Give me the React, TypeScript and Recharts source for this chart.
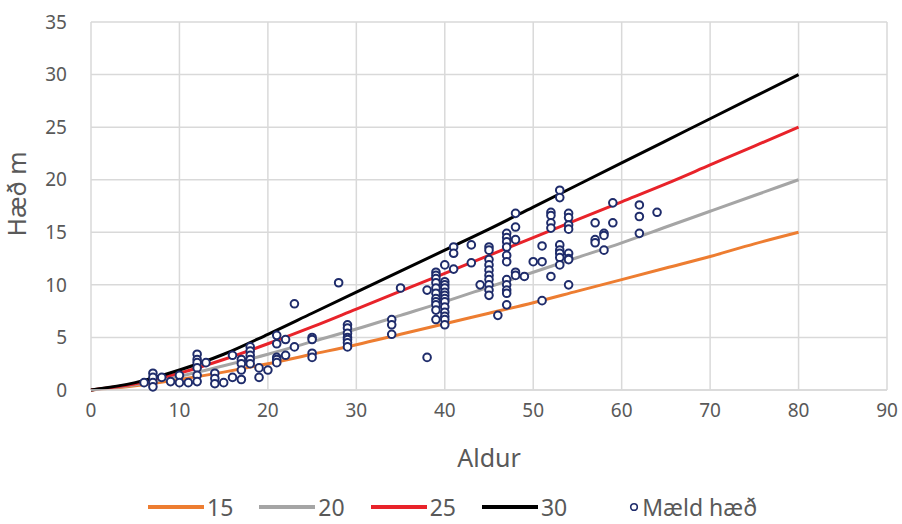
import React from "react";
import { ComposedChart, Line, Scatter, XAxis, YAxis, CartesianGrid, Legend, Label } from "recharts";

// Site-index height curves (height in m by age)
const AGES = [0, 5, 10, 15, 20, 25, 30, 35, 40, 45, 50, 55, 60, 65, 70, 75, 80];
const H15 = [0, 0.4, 1.0, 1.7, 2.5, 3.4, 4.3, 5.3, 6.3, 7.3, 8.3, 9.4, 10.5, 11.6, 12.7, 13.9, 15];
const H20 = [0, 0.5, 1.3, 2.3, 3.4, 4.6, 5.8, 7.1, 8.4, 9.8, 11.2, 12.6, 14.0, 15.5, 17.0, 18.5, 20];
const H25 = [0, 0.6, 1.6, 2.9, 4.4, 6.0, 7.7, 9.4, 11.1, 12.8, 14.5, 16.2, 17.9, 19.6, 21.4, 23.2, 25];
const H30 = [0, 0.7, 1.9, 3.4, 5.3, 7.3, 9.3, 11.3, 13.3, 15.3, 17.4, 19.5, 21.6, 23.7, 25.8, 27.9, 30];

// Measured heights, grouped by stand age
const MEASURED: [number, number[]][] = [
  [6, [0.7]],
  [7, [1.6, 1.2, 0.7, 0.3]],
  [8, [1.2]],
  [9, [0.8]],
  [10, [1.4, 0.7]],
  [11, [0.7]],
  [12, [3.4, 2.9, 2.6, 2.1, 1.4, 0.8]],
  [13, [2.6]],
  [14, [1.6, 1.1, 0.6]],
  [15, [0.7]],
  [16, [3.3, 1.2]],
  [17, [2.9, 2.5, 1.9, 1.0]],
  [18, [4.1, 3.7, 3.3, 2.9, 2.5]],
  [19, [2.1, 1.2]],
  [20, [1.9]],
  [21, [5.2, 4.4, 3.1, 2.9, 2.6]],
  [22, [4.8, 3.3]],
  [23, [8.2, 4.1]],
  [25, [5.0, 4.8, 3.5, 3.1]],
  [28, [10.2]],
  [29, [6.2, 5.9, 5.4, 5.0, 4.8, 4.5, 4.1]],
  [34, [6.7, 6.2, 5.3]],
  [35, [9.7]],
  [38, [9.5, 3.1]],
  [39, [11.2, 10.9, 10.6, 10.2, 9.7, 9.2, 8.7, 8.4, 8.1, 7.6, 6.7]],
  [40, [11.9, 10.3, 10.0, 9.7, 9.3, 9.0, 8.7, 8.4, 7.9, 7.4, 7.0, 6.7, 6.2]],
  [41, [13.6, 13.0, 11.5]],
  [43, [13.8, 12.1]],
  [44, [10.0]],
  [45, [13.6, 13.3, 12.4, 11.9, 11.4, 10.9, 10.5, 10.0, 9.5, 9.0]],
  [46, [7.1]],
  [47, [14.9, 14.5, 14.1, 13.6, 12.8, 12.2, 10.5, 10.0, 9.5, 9.2, 8.1]],
  [48, [16.8, 15.5, 14.3, 11.2, 10.9]],
  [49, [10.8]],
  [50, [12.2]],
  [51, [13.7, 12.2, 8.5]],
  [52, [16.9, 16.6, 15.9, 15.4, 10.8]],
  [53, [19.0, 18.3, 13.8, 13.3, 13.0, 12.6, 11.9]],
  [54, [16.8, 16.4, 15.7, 15.3, 13.0, 12.5, 12.4, 10.0]],
  [57, [15.9, 14.3, 14.0]],
  [58, [14.9, 14.7, 13.3]],
  [59, [17.8, 15.9]],
  [62, [17.6, 16.5, 14.9]],
  [64, [16.9]],
];

const X_TICKS = [0, 10, 20, 30, 40, 50, 60, 70, 80, 90];
const Y_TICKS = [0, 5, 10, 15, 20, 25, 30, 35];

const curveRows = AGES.map((age, i) => ({ age, s15: H15[i], s20: H20[i], s25: H25[i], s30: H30[i] }));
const measuredRows = MEASURED.flatMap(([age, hs]) => hs.map((h) => ({ age, h })));

const FONT = "'Noto Sans', 'DejaVu Sans', sans-serif";
const TEXT = "#595959";
const NAVY = "#1F2C6B";

const SERIES = [
  { key: "s15", name: "15", color: "#ED7D31" },
  { key: "s20", name: "20", color: "#A5A5A5" },
  { key: "s25", name: "25", color: "#E8232A" },
  { key: "s30", name: "30", color: "#000000" },
];

function Dot(props: any) {
  const { cx, cy } = props;
  return <circle cx={cx} cy={cy} r={3.8} fill="#fff" stroke={NAVY} strokeWidth={2} />;
}

function LegendRow() {
  return (
    <div
      style={{
        display: "flex",
        alignItems: "center",
        marginLeft: 148,
        paddingTop: 12,
        lineHeight: "26px",
        fontFamily: FONT,
        fontSize: 23,
        color: TEXT,
      }}
    >
      {SERIES.map((s) => (
        <div key={s.key} style={{ display: "flex", alignItems: "center", marginRight: 26 }}>
          <span style={{ display: "inline-block", width: 56, height: 4, background: s.color, marginRight: 3 }} />
          <span>{s.name}</span>
        </div>
      ))}
      <div style={{ display: "flex", alignItems: "center", marginLeft: 36 }}>
        <svg width={10} height={10} style={{ marginRight: 3 }}>
          <circle cx={5} cy={5} r={3.3} fill="#fff" stroke={NAVY} strokeWidth={1.6} />
        </svg>
        <span>Mæld hæð</span>
      </div>
    </div>
  );
}

export default function App() {
  return (
    <div style={{ position: "absolute", left: 0, top: 0, width: 902, height: 524, background: "#fff" }}>
      <ComposedChart width={902} height={524} data={curveRows} margin={{ top: 22, right: 15, bottom: 0, left: 0 }}>
        <CartesianGrid stroke="#D9D9D9" strokeWidth={1.5} />
        <XAxis
          dataKey="age"
          type="number"
          domain={[0, 90]}
          ticks={X_TICKS}
          height={92}
          tickSize={0}
          tickMargin={14}
          axisLine={{ stroke: "#D9D9D9", strokeWidth: 1.5 }}
          tick={{ fill: TEXT, fontSize: 19, fontFamily: FONT }}
        >
          <Label
            content={(p: any) => (
              <text x={p.viewBox.x + p.viewBox.width / 2} y={p.viewBox.y + 77} textAnchor="middle" fill={TEXT} fontSize={25} fontFamily={FONT}>
                Aldur
              </text>
            )}
          />
        </XAxis>
        <YAxis
          type="number"
          domain={[0, 35]}
          ticks={Y_TICKS}
          width={91}
          tickSize={0}
          tickMargin={24}
          axisLine={false}
          tick={{ fill: TEXT, fontSize: 19, fontFamily: FONT }}
        >
          <Label
            content={(p: any) => {
              const x = 26;
              const y = p.viewBox.y + p.viewBox.height / 2 - 12;
              return (
                <text x={x} y={y} transform={`rotate(-90, ${x}, ${y})`} textAnchor="middle" fill={TEXT} fontSize={25} fontFamily={FONT}>
                  Hæð m
                </text>
              );
            }}
          />
        </YAxis>
        {SERIES.map((s) => (
          <Line
            key={s.key}
            dataKey={s.key}
            name={s.name}
            stroke={s.color}
            strokeWidth={3}
            type="monotone"
            dot={false}
            activeDot={false}
            isAnimationActive={false}
          />
        ))}
        <Scatter data={measuredRows} dataKey="h" name="Mæld hæð" shape={<Dot />} isAnimationActive={false} />
        <Legend verticalAlign="bottom" height={42} content={() => <LegendRow />} />
      </ComposedChart>
    </div>
  );
}
